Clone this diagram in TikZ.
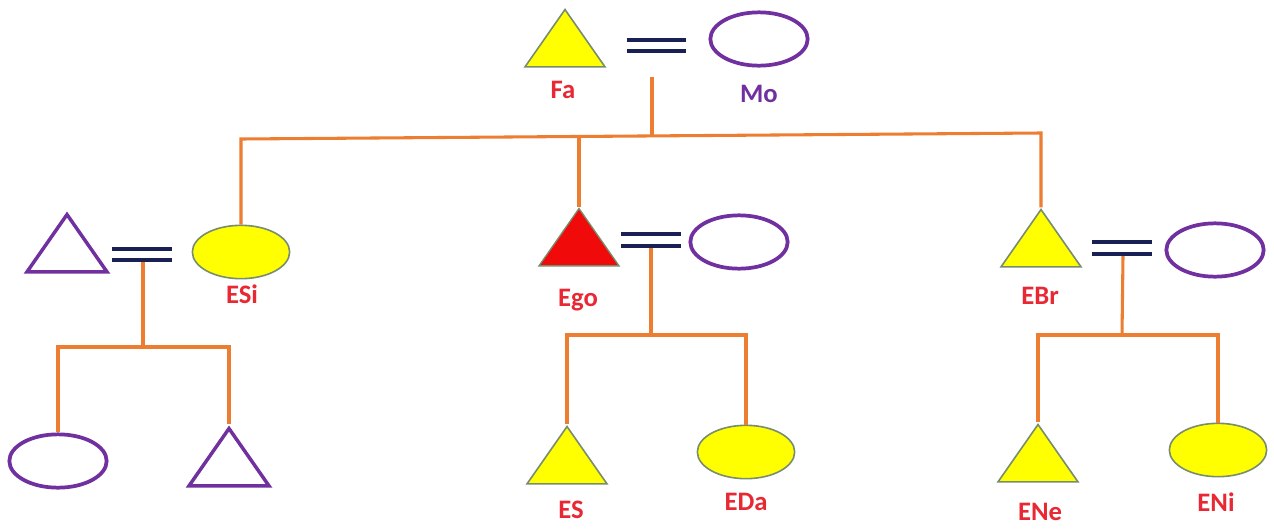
\documentclass[tikz,border=0pt]{standalone}
\usepackage{fontspec}
\setmainfont{Carlito}
\usetikzlibrary{shapes.geometric}
\definecolor{lineor}{RGB}{237,125,49}
\definecolor{navy}{RGB}{24,32,84}
\definecolor{purp}{RGB}{112,48,160}
\definecolor{yel}{RGB}{255,255,0}
\definecolor{yelrim}{RGB}{120,140,110}
\definecolor{lblred}{RGB}{232,40,50}
\definecolor{egored}{RGB}{240,10,10}
\begin{document}
\begin{tikzpicture}[x=0.75pt,y=-0.75pt,
  tri/.style={isosceles triangle, isosceles triangle stretches, shape border rotate=90,
    minimum width=60pt, minimum height=43pt, inner sep=0pt},
  yeltri/.style={tri, fill=yel, draw=yelrim, line width=1.2pt},
  purtri/.style={tri, draw=purp, line width=2.6pt},
  redtri/.style={tri, fill=egored, draw=yelrim, line width=1pt},
  ell/.style={ellipse, minimum width=73pt, minimum height=40pt, inner sep=0pt},
  yelell/.style={ell, fill=yel, draw=yelrim, line width=1.2pt},
  purell/.style={ell, draw=purp, line width=2.8pt},
  lbl/.style={font=\fontsize{20}{23}\selectfont\bfseries, text=lblred},
  marr/.style={draw=navy, line width=3.6pt},
  kin/.style={draw=lineor, line width=2.3pt}]
\useasboundingbox (0,0) rectangle (1274,529);

% generation 1
\node[yeltri] (fa) at (565,46) {};
\node[lbl] (faL) at (563,90) {Fa};
\node[purell] (mo) at (759,39) {};
\node[lbl, text=purp] (moL) at (759,94) {Mo};
\coordinate (e1a) at (627,40); \coordinate (e1b) at (686,40);
\coordinate (e2a) at (627,51); \coordinate (e2b) at (686,51);
\draw[marr] (e1a) -- (e1b); \draw[marr] (e2a) -- (e2b);
\coordinate (m1) at (652,77);

% generation 2
\node[purtri] (esih) at (67,251) {};
\node[yelell] (esi) at (241,252) {};
\node[lbl] (esiL) at (242,294) {ESi};
\coordinate (f1a) at (112,249); \coordinate (f1b) at (172,249);
\coordinate (f2a) at (112,260); \coordinate (f2b) at (172,260);
\draw[marr] (f1a) -- (f1b); \draw[marr] (f2a) -- (f2b);
\coordinate (m2) at (143,262);

\node[redtri] (ego) at (579,245) {};
\node[lbl] (egoL) at (578,300) {Ego};
\node[purell] (egow) at (739,242) {};
\coordinate (g1a) at (621,234); \coordinate (g1b) at (681,234);
\coordinate (g2a) at (621,246); \coordinate (g2b) at (681,246);
\draw[marr] (g1a) -- (g1b); \draw[marr] (g2a) -- (g2b);
\coordinate (m3) at (651,248);

\node[yeltri] (ebr) at (1041,246) {};
\node[lbl] (ebrL) at (1040,296) {EBr};
\node[purell] (ebrw) at (1215,250) {};
\coordinate (h1a) at (1092,242); \coordinate (h1b) at (1152,242);
\coordinate (h2a) at (1092,254); \coordinate (h2b) at (1152,254);
\draw[marr] (h1a) -- (h1b); \draw[marr] (h2a) -- (h2b);
\coordinate (m4) at (1123,256);

% generation 3
\node[purell] (c1) at (58,461) {};
\node[purtri] (c2) at (229,465) {};
\node[yeltri] (es) at (567,463) {};
\node[lbl] (esL) at (571,510) {ES};
\node[yelell] (eda) at (746,452) {};
\node[lbl] (edaL) at (746,502) {EDa};
\node[yeltri] (ene) at (1038,461) {};
\node[lbl] (eneL) at (1040,512) {ENe};
\node[yelell] (eni) at (1218,450) {};
\node[lbl] (eniL) at (1216,502) {ENi};

% connectors
\coordinate (hl) at (241,139);
\coordinate (hr) at (1041,133);
\coordinate (hm) at (579,137);
\coordinate (mt) at (652,135);
\draw[kin] (m1) -- (mt);
\draw[kin] (esi.north) -- (hl) -- (hr) -- (ebr.apex);
\draw[kin] (hm) -- (ego.apex);

\coordinate (b1) at (143,347);
\draw[kin] (m2) -- (b1);
\draw[kin] (c1.north) |- (b1) -| (c2.apex);

\coordinate (b2) at (651,335);
\draw[kin] (m3) -- (b2);
\draw[kin] (es.apex) |- (b2) -| (eda.north);

\coordinate (b3) at (1122,335);
\draw[kin] (m4) -- (b3);
\draw[kin] (ene.apex) |- (b3) -| (eni.north);
\end{tikzpicture}
\end{document}
